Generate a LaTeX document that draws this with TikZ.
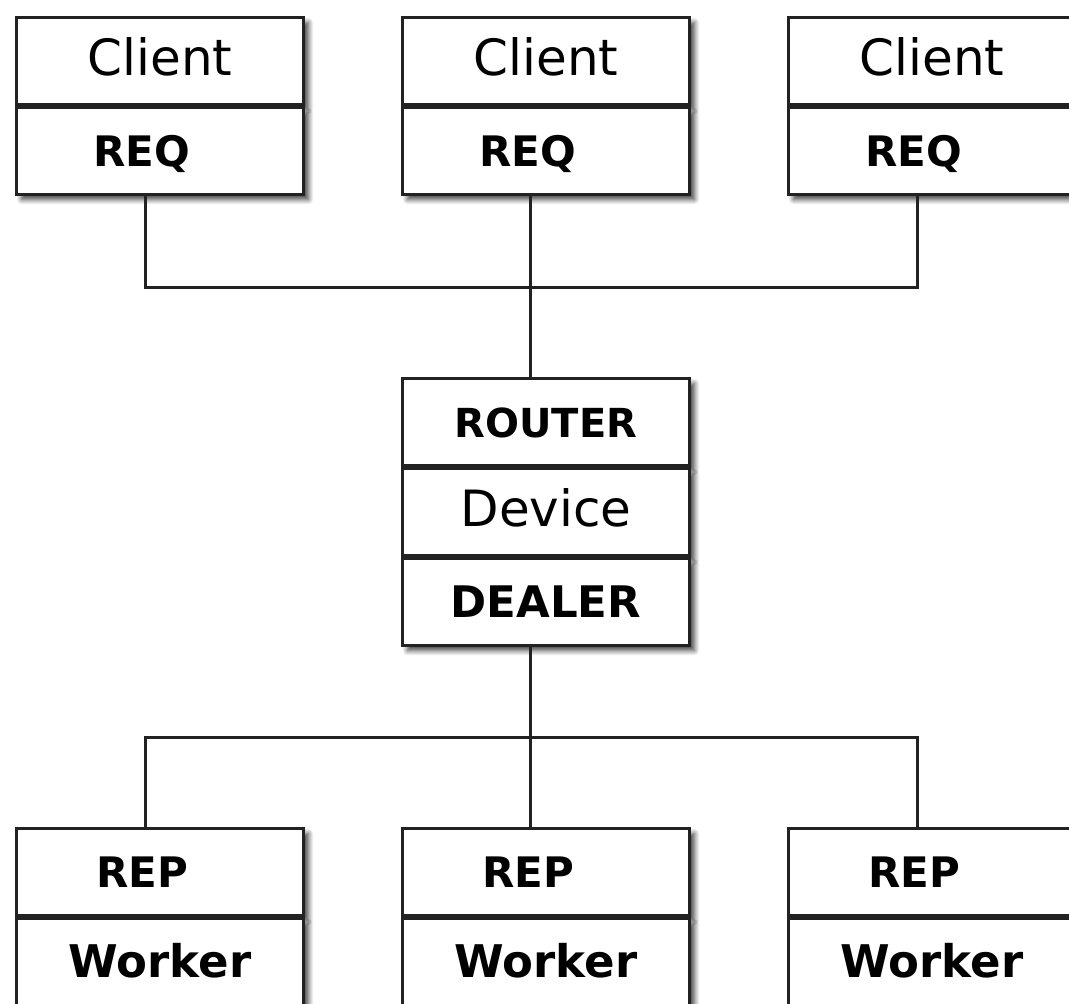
\documentclass[tikz,border=0pt]{standalone}
\usepackage{fontspec}
\setmainfont{DejaVu Sans}
\usetikzlibrary{positioning, shadows.blur}
\definecolor{inkgrey}{HTML}{222222}

\begin{document}
\begin{tikzpicture}[node distance=90pt]
\tikzstyle{cell} = [rectangle, minimum width=287pt, minimum height=87pt, inner sep=0pt, text centered, line width=2.8pt, draw=inkgrey, fill=white, text depth=0pt, blur shadow={shadow xshift=5pt, shadow yshift=-5pt, shadow blur radius=5pt, shadow blur steps=8, shadow opacity=75}]
\tikzstyle{plain} = [font=\fontsize{50}{50}\selectfont, text height=29pt]
\tikzstyle{heavy} = [font=\fontsize{42}{42}\selectfont\bfseries, text height=31pt]
\tikzstyle{wire} = [-, line width=3pt, draw=inkgrey]

\path[use as bounding box, clip] (0,0) rectangle (1069pt,-1004pt);

% clients
\node (client1) [cell, plain] at (160pt,-61pt) {Client};
\node (req1) [cell, heavy, below of=client1] {REQ\kern36pt};
\node (client2) [cell, plain] at (546pt,-61pt) {Client};
\node (req2) [cell, heavy, below of=client2] {REQ\kern36pt};
\node (client3) [cell, plain] at (932pt,-61pt) {Client};
\node (req3) [cell, heavy, below of=client3] {REQ\kern36pt};

% device
\node (router) [cell, heavy, font=\fontsize{40}{40}\selectfont\bfseries] at (546pt,-422pt) {ROUTER};
\node (device) [cell, plain, below of=router] {Device};
\node (dealer) [cell, heavy, font=\fontsize{43.5}{43.5}\selectfont\bfseries, below of=device] {DEALER};

% workers
\node (rep1) [cell, heavy] at (160pt,-872pt) {REP\kern36pt};
\node (worker1) [cell, heavy, font=\fontsize{45}{45}\selectfont\bfseries, below of=rep1] {Worker};
\node (rep2) [cell, heavy] at (546pt,-872pt) {REP\kern36pt};
\node (worker2) [cell, heavy, font=\fontsize{45}{45}\selectfont\bfseries, below of=rep2] {Worker};
\node (rep3) [cell, heavy] at (932pt,-872pt) {REP\kern36pt};
\node (worker3) [cell, heavy, font=\fontsize{45}{45}\selectfont\bfseries, below of=rep3] {Worker};

\coordinate (hubtop) at (530pt,-287pt);
\coordinate (hubbot) at (530pt,-737pt);

\draw[wire] ([xshift=-15pt]req1.south) |- (hubtop) -| ([xshift=-15pt]req3.south);
\draw[wire] ([xshift=-16pt]req2.south) -- ([xshift=-16pt]router.north);
\draw[wire] ([xshift=-16pt]dealer.south) -- ([xshift=-16pt]rep2.north);
\draw[wire] ([xshift=-15pt]rep1.north) |- (hubbot) -| ([xshift=-15pt]rep3.north);

\end{tikzpicture}
\end{document}
